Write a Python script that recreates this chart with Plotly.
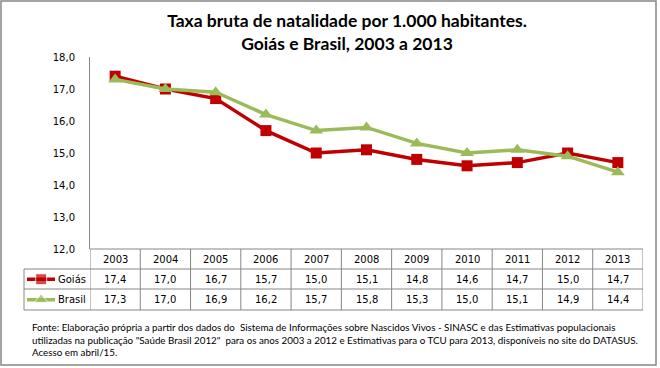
import plotly.graph_objects as go

years = ["2003", "2004", "2005", "2006", "2007", "2008", "2009", "2010", "2011", "2012", "2013"]
goias = [17.4, 17.0, 16.7, 15.7, 15.0, 15.1, 14.8, 14.6, 14.7, 15.0, 14.7]
brasil = [17.3, 17.0, 16.9, 16.2, 15.7, 15.8, 15.3, 15.0, 15.1, 14.9, 14.4]
series_names = ["Goiás", "Brasil"]
RED = "#C00000"
GREEN = "#9BBB59"
GRAY = "#868686"

W, H = 660, 368
ML, MR, MT, MB = 24, 17, 57, 58
PW = W - ML - MR
PH = H - MT - MB


def px_x(px):
    return (px - ML) / PW


def px_y(py):
    return (H - MB - py) / PH


xs = list(range(len(years)))
fig = go.Figure()
fig.add_trace(go.Scatter(x=xs, y=goias, mode="lines+markers", name=series_names[0],
                         line=dict(color=RED, width=3.5),
                         marker=dict(symbol="square", size=11, color=RED),
                         cliponaxis=False, showlegend=False))
fig.add_trace(go.Scatter(x=xs, y=brasil, mode="lines+markers", name=series_names[1],
                         line=dict(color=GREEN, width=3.5),
                         marker=dict(symbol="triangle-up", size=12, color=GREEN),
                         cliponaxis=False, showlegend=False))

# legend keys inside table label column
for row, (col, sym, sz) in enumerate([(RED, "square", 11), (GREEN, "triangle-up", 12)]):
    yv = 1.5 - row
    fig.add_trace(go.Scatter(x=[0.045, 0.26, 0.47], y=[yv, yv, yv], mode="lines+markers",
                             line=dict(color=col, width=3.5),
                             marker=dict(symbol=sym, size=[0, sz, 0], color=col),
                             xaxis="x2", yaxis="y2", showlegend=False, hoverinfo="skip",
                             cliponaxis=False))

y_top_tbl = 249
rows_px = [249, 269, 289, 310]
x_left_plot = 90
x_right = 643
x_left_tbl = 24

font_tbl = dict(family="DejaVu Sans", size=10, color="black")

shapes = []
line_style = dict(color=GRAY, width=1)
shapes.append(dict(type="line", xref="x", yref="paper", x0=-0.5, x1=10.5,
                   y0=px_y(rows_px[0]), y1=px_y(rows_px[0]), line=line_style))
for r in rows_px[1:]:
    shapes.append(dict(type="line", xref="paper", yref="paper", x0=px_x(x_left_tbl), x1=1,
                       y0=px_y(r), y1=px_y(r), line=line_style))
for i in range(len(years) + 1):
    shapes.append(dict(type="line", xref="x", yref="paper", x0=i - 0.5, x1=i - 0.5,
                       y0=px_y(rows_px[0]), y1=px_y(rows_px[3]), line=line_style))
shapes.append(dict(type="line", xref="paper", yref="paper", x0=px_x(x_left_tbl), x1=px_x(x_left_tbl),
                   y0=px_y(rows_px[1]), y1=px_y(rows_px[3]), line=line_style))
shapes.append(dict(type="rect", xref="paper", yref="paper", x0=px_x(1), x1=px_x(656),
                   y0=px_y(365), y1=px_y(1), line=dict(color=GRAY, width=1.5)))

annotations = []
for i, yr in enumerate(years):
    annotations.append(dict(x=i, y=px_y(259), xref="x", yref="paper", text=yr, showarrow=False,
                            font=font_tbl, xanchor="center", yanchor="middle"))
    annotations.append(dict(x=i, y=px_y(279), xref="x", yref="paper",
                            text=f"{goias[i]:.1f}".replace(".", ","), showarrow=False,
                            font=font_tbl, xanchor="center", yanchor="middle"))
    annotations.append(dict(x=i, y=px_y(299.5), xref="x", yref="paper",
                            text=f"{brasil[i]:.1f}".replace(".", ","), showarrow=False,
                            font=font_tbl, xanchor="center", yanchor="middle"))
for k, name in enumerate(series_names):
    annotations.append(dict(x=px_x(56), y=px_y(279 + 20.5 * k), xref="paper", yref="paper",
                            text=name, showarrow=False, font=font_tbl,
                            xanchor="left", yanchor="middle"))

annotations.append(dict(
    x=px_x(30), y=px_y(319), xref="paper", yref="paper", xanchor="left", yanchor="top",
    align="left", showarrow=False,
    font=dict(family="Lato", size=9.8, color="black"),
    text=("Fonte: Elaboração própria a partir dos dados do  Sistema de Informações sobre Nascidos Vivos - SINASC e das Estimativas populacionais<br>"
          "utilizadas na publicação \"Saúde Brasil 2012\"  para os anos 2003 a 2012 e Estimativas para o TCU para 2013, disponíveis no site do DATASUS.<br>"
          "Acesso em abril/15.")))

fig.update_layout(
    width=W, height=H,
    margin=dict(l=ML, r=MR, t=MT, b=MB),
    paper_bgcolor="white", plot_bgcolor="white",
    separators=",.",
    title=dict(text="Taxa bruta de natalidade por 1.000 habitantes.<br>Goiás e Brasil, 2003 a 2013",
               x=347 / W, xanchor="center", y=1 - 27 / H, yanchor="middle",
               xref="container", yref="container",
               font=dict(family="Lato", size=17.5, color="black", weight="bold")),
    xaxis=dict(domain=[px_x(x_left_plot), 1], range=[-0.5, 10.5], showticklabels=False,
               showgrid=False, zeroline=False, showline=False, ticks="", fixedrange=True),
    yaxis=dict(domain=[px_y(y_top_tbl), 1], range=[12, 18], dtick=1, tick0=12,
               tickformat=".1f", showgrid=False, zeroline=False, showline=True,
               linecolor=GRAY, linewidth=1, ticks="", ticklabelstandoff=12,
               tickfont=dict(family="DejaVu Sans", size=10, color="black")),
    xaxis2=dict(domain=[0, px_x(x_left_plot)], range=[0, 1], visible=False, anchor="y2"),
    yaxis2=dict(domain=[0, px_y(rows_px[1])], range=[0, 2], visible=False, anchor="x2"),
    shapes=shapes, annotations=annotations,
)

fig.write_html("out.html", config={"displayModeBar": False},
               post_script="document.body.style.margin='0';")
